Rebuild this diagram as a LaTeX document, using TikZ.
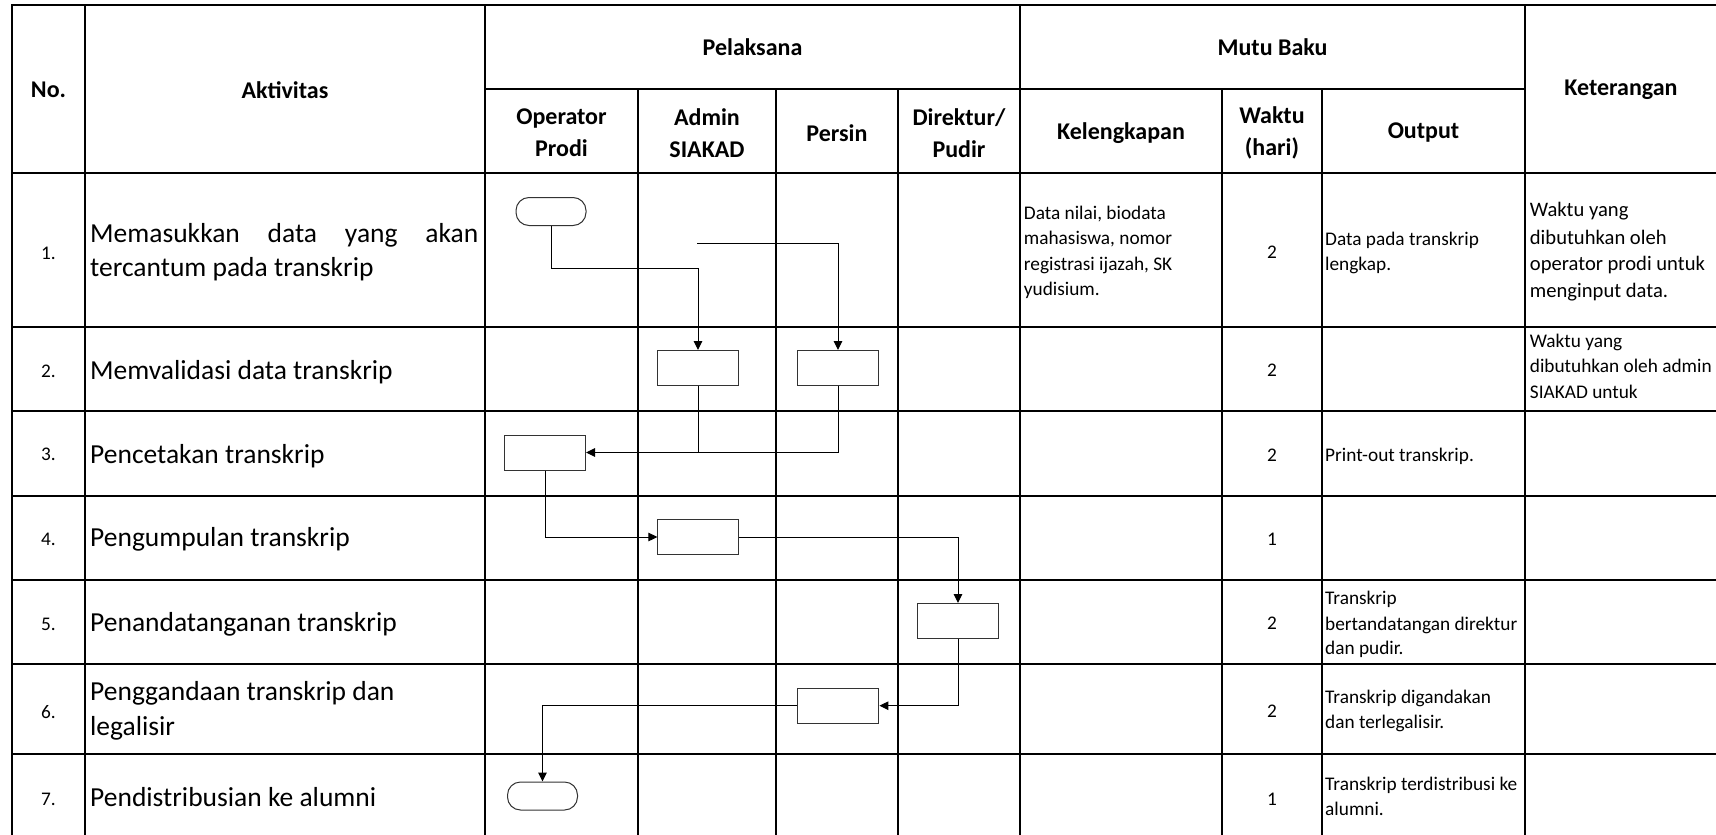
\documentclass[tikz,border=0pt]{standalone}
\usepackage{fontspec}
\setmainfont{Carlito}
\usetikzlibrary{arrows.meta}
\begin{document}
\begin{tikzpicture}[x=1pt,y=-1pt,
  grid/.style={line width=2pt, line cap=rect},
  hd/.style={font=\fontsize{24}{32}\selectfont\bfseries, align=center, inner sep=0},
  act/.style={font=\fontsize{27.5}{34.5}\selectfont, anchor=base west, inner sep=0},
  sm/.style={font=\fontsize{19.3}{25.5}\selectfont, anchor=base west, inner sep=0},
  note/.style={font=\fontsize{20.6}{27}\selectfont, anchor=base west, inner sep=0},
  num/.style={font=\fontsize{19.3}{24}\selectfont, inner sep=0},
  proc/.style={draw=black!80, line width=1pt, minimum width=81pt, minimum height=35pt, inner sep=0},
  term/.style={draw=black!80, line width=1pt, minimum width=70pt, minimum height=28pt, rounded corners=13pt, inner sep=0},
  link/.style={line width=1pt},
  flow/.style={link, -{Triangle[length=9pt,width=8.5pt]}}
]
\useasboundingbox (0,0) rectangle (1716,835);

% ---------- table grid ----------
\foreach \x in {12,85,485,1020,1525,1718} \draw[grid] (\x,5) -- (\x,840);
\foreach \x in {638,776,898,1222,1322} \draw[grid] (\x,89) -- (\x,840);
\draw[grid] (485,89) -- (1525,89);
\foreach \y in {5,173.3,327.3,410.7,495.7,580,664,754.3} \draw[grid] (12,\y) -- (1718,\y);

% ---------- header ----------
\node[hd] (hNo)  at (48.5,90) {No.};
\node[hd] (hAkt) at (285,90) {Aktivitas};
\node[hd] (hPel) at (752.5,47) {Pelaksana};
\node[hd] (hMut) at (1272.5,47) {Mutu Baku};
\node[hd] (hKet) at (1621,89.5) {Keterangan};
\node[hd] (hOp)  at (561.5,133) {Operator\\Prodi};
\node[hd] (hAd)  at (707,133) {Admin\\SIAKAD};
\node[hd] (hPe)  at (837,133) {Persin};
\node[hd] (hDi)  at (959,133) {Direktur/\\Pudir};
\node[hd] (hKel) at (1121,133) {Kelengkapan};
\node[hd] (hWak) at (1272,133) {Waktu\\(hari)};
\node[hd] (hOut) at (1423.5,133) {Output};

% ---------- row numbers ----------
\node[num] (n1) at (48.5,253) {1.};
\node[num] (n2) at (48.5,371.7) {2.};
\node[num] (n3) at (48.5,454.3) {3.};
\node[num] (n4) at (48.5,539) {4.};
\node[num] (n5) at (48.5,624) {5.};
\node[num] (n6) at (48.5,711.7) {6.};
\node[num] (n7) at (48.5,799.3) {7.};

% ---------- activities ----------
\node[act] (a1a) at (90,242.3) {\hbox to 388pt{Memasukkan\hfill data\hfill yang\hfill akan}};
\node[act] (a1b) at (90,276.7) {tercantum pada transkrip};
\node[act] (a2)  at (90,379.3) {Memvalidasi data transkrip};
\node[act] (a3)  at (90,463.3) {Pencetakan transkrip};
\node[act] (a4)  at (90,546.7) {Pengumpulan transkrip};
\node[act] (a5)  at (90,631.7) {Penandatanganan transkrip};
\node[act] (a6a) at (90,700) {Penggandaan transkrip dan};
\node[act] (a6b) at (90,735.7) {legalisir};
\node[act] (a7)  at (90,806) {Pendistribusian ke alumni};

% ---------- kelengkapan ----------
\node[sm] (k1a) at (1023.7,219) {Data nilai, biodata};
\node[sm] (k1b) at (1023.7,244.5) {mahasiswa, nomor};
\node[sm] (k1c) at (1023.7,270) {registrasi ijazah, SK};
\node[sm] (k1d) at (1023.7,295.5) {yudisium.};

% ---------- waktu ----------
\node[num] (w1) at (1272,252) {2};
\node[num] (w2) at (1272,370.7) {2};
\node[num] (w3) at (1272,455) {2};
\node[num] (w4) at (1272,539) {1};
\node[num] (w5) at (1272,623.3) {2};
\node[num] (w6) at (1272,711.7) {2};
\node[num] (w7) at (1272,799) {1};

% ---------- output ----------
\node[sm] (o1a) at (1325,245.5) {Data pada transkrip};
\node[sm] (o1b) at (1325,270) {lengkap.};
\node[sm] (o3)  at (1325,461.7) {Print-out transkrip.};
\node[sm] (o5a) at (1325,604.3) {Transkrip};
\node[sm] (o5b) at (1325,630) {bertandatangan direktur};
\node[sm] (o5c) at (1325,654.3) {dan pudir.};
\node[sm] (o6a) at (1325,703.3) {Transkrip digandakan};
\node[sm] (o6b) at (1325,728.3) {dan terlegalisir.};
\node[sm] (o7a) at (1325,790.7) {Transkrip terdistribusi ke};
\node[sm] (o7b) at (1325,815) {alumni.};

% ---------- keterangan ----------
\node[note] (c1a) at (1529.7,216) {Waktu yang};
\node[note] (c1b) at (1529.7,244) {dibutuhkan oleh};
\node[note] (c1c) at (1529.7,270.5) {operator prodi untuk};
\node[note] (c1d) at (1529.7,297) {menginput data.};
\node[sm] (c2a) at (1529.7,347.7) {Waktu yang};
\node[sm] (c2b) at (1529.7,372.7) {dibutuhkan oleh admin};
\node[sm] (c2c) at (1529.7,398) {SIAKAD untuk};

% ---------- flow symbols ----------
\node[term] (t1) at (551,211.5) {};
\node[proc] (A2) at (698,368) {};
\node[proc] (P2) at (838,368) {};
\node[proc] (O3) at (545,452.5) {};
\node[proc] (A4) at (698.4,537) {};
\node[proc] (D5) at (958,621) {};
\node[proc] (P6) at (838.4,705.7) {};
\node[term] (t7) at (542.5,796) {};

% ---------- connectors ----------
\coordinate (j1) at (0,268.3);
\coordinate (s2) at (697,243);
\draw[flow] (t1.south) -- (t1.south |- j1) -| (A2.north);
\draw[flow] (s2) -| (P2.north);
\draw[flow] (A2.south) |- (O3.east);
\draw[link] (P2.south) |- (A2.south |- O3.east);
\draw[flow] (O3.south) |- (A4.west);
\draw[flow] (A4.east) -| (D5.north);
\draw[flow] (D5.south) |- (P6.east);
\draw[flow] (P6.west) -| (t7.north);
\end{tikzpicture}
\end{document}
